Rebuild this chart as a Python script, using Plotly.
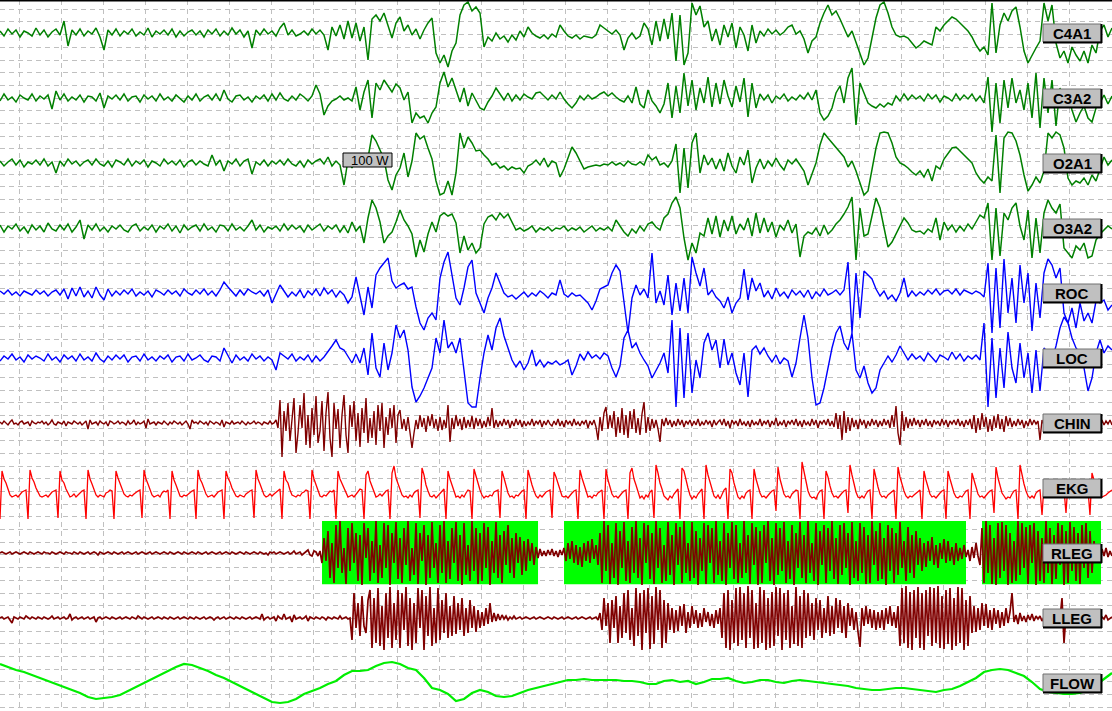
import numpy as np
import plotly.graph_objects as go

# ---------------- data (amplitudes in display units, positive = up) ----------------
channel_names = ["C4A1", "C3A2", "O2A1", "O3A2", "ROC", "LOC", "CHIN", "EKG", "RLEG", "LLEG", "FLOW"]

# EEG / EOG channels: one sample every 4/42 s
c4a1 = [2,-3,4,-1,3,-4,2,0,-3,5,
        -2,3,-4,1,4,-2,12,-13,3,-2,
        4,-3,2,-1,5,-4,-17,3,-2,4,
        -3,2,-1,4,-3,1,-2,5,-4,2,
        -1,3,-2,4,-4,2,-3,1,3,-2,
        2,-4,3,-1,4,-3,2,-2,5,-1,
        3,-4,2,-15,3,-2,4,-1,2,-3,
        5,10,-2,3,-3,-1,2,-2,4,-1,
        3,-2,-17,6,-3,8,-6,12,-5,10,
        -8,6,-27,14,18,12,20,8,-5,10,
        16,2,8,-2,4,-6,3,10,15,-20,
        -30,-22,-34,-18,-10,18,28,31,22,26,
        20,-14,-4,-8,0,-6,-3,-9,-2,-7,
        2,-4,6,0,-3,-5,-2,-6,-1,-4,
        8,2,-3,-5,-2,-6,-3,-4,-5,-2,
        8,5,2,-1,3,-2,-17,-5,0,-6,
        -3,10,4,-12,12,-8,14,-6,20,-28,
        18,-32,-20,30,18,27,6,12,-8,4,
        -12,8,-4,10,-15,6,-2,-18,8,-10,
        2,-3,4,-1,3,-2,1,6,8,-1,
        2,-6,-20,-8,-4,10,20,28,18,22,
        14,4,-4,2,-10,-20,-32,-25,-5,15,
        28,31,20,6,-2,-4,-3,-5,-10,-15,
        -12,-8,-10,-12,6,2,8,12,16,14,
        10,6,2,-4,-12,-18,-14,-22,30,-20,
        8,20,12,22,26,6,-18,-30,-22,-15,
        -8,30,12,28,-10,-25,-18,-30,-14,-22,
        -28,-18,-30,-12,-20,2,8,-4,5]

c3a2 = [-3,4,-2,1,-4,3,0,-2,4,-3,
        2,-1,3,-11,7,-2,4,-3,1,-2,
        3,-4,2,1,-3,5,-10,2,-1,3,
        -2,4,-3,1,2,-4,3,-1,2,-3,
        4,-2,1,-3,3,-1,-4,2,-2,4,
        -3,1,3,-2,4,-3,8,-1,-4,2,
        3,-2,1,-4,2,-1,3,-3,4,-2,
        5,-1,-3,2,-2,4,1,-3,2,13,
        4,-17,-8,-3,-1,2,-2,0,-3,11,
        -12,6,18,-20,15,8,18,12,6,14,
        10,-2,6,-25,-15,-20,-18,-25,-15,-9,
        15,26,11,20,8,-4,10,-8,5,-2,
        -10,-12,-4,2,10,4,-2,5,-3,3,
        -2,4,1,-1,5,6,2,-2,3,-1,
        6,-1,-6,-10,-5,2,-2,3,-1,1,
        4,6,2,5,1,-2,-4,2,-5,11,
        -6,-10,8,-3,-8,-15,-6,15,-20,12,
        -15,25,-8,18,-12,10,-5,21,-9,15,
        -6,18,2,-9,12,-4,20,-19,15,-10,
        4,-2,3,-5,2,-1,4,-3,1,-2,
        3,-1,5,-2,8,-15,-22,-18,-10,5,
        12,-5,20,30,-27,15,5,-5,-8,-10,
        -6,-9,-5,-7,2,-3,4,-2,3,-1,
        2,-3,4,-1,3,-4,2,0,-3,4,
        -2,3,-1,4,-3,2,-5,21,-34,15,
        -25,18,-10,20,-5,8,-12,15,-20,25,
        -30,20,-15,18,-28,10,-8,5,-12,-24,
        -15,-8,-20,-24,-10,-5,3,-6,2]

o2a1 = [2,-3,1,4,-2,3,-4,1,-1,3,
        -2,4,-3,1,-10,2,-3,4,-1,2,
        -3,1,3,-2,4,-1,-3,2,-4,3,
        1,-2,4,-3,2,-1,3,-4,2,0,
        -3,4,-1,2,-2,3,-4,1,3,-2,
        2,-1,-3,8,-2,3,-8,2,-1,4,
        -3,2,4,-11,1,-2,3,-3,2,-1,
        3,-2,4,-1,-3,2,-4,3,-1,2,
        4,-1,6,-3,2,-2,-22,3,-5,4,
        -3,2,5,28,22,13,4,-17,-27,-12,
        -5,10,-14,2,30,24,27,15,4,-18,
        -32,-30,-18,-32,-10,30,15,26,20,12,
        13,8,4,-2,0,-5,-3,-7,-4,-6,
        -5,-10,-3,-1,3,-2,5,-4,2,0,
        -14,-6,5,16,10,2,-6,-4,-3,-2,
        -3,-1,-2,1,-2,0,-3,2,-1,-2,
        1,-2,8,3,6,-2,0,-4,2,19,
        -30,15,-25,20,30,-10,8,-2,5,-6,
        4,-8,10,-3,-10,6,-2,13,-20,-5,
        4,-6,2,-3,5,-2,-7,3,-1,4,
        -2,-8,-22,-10,0,18,30,25,20,15,
        10,6,-4,2,-8,-20,-32,-28,-5,15,
        30,31,30,20,6,0,-2,-5,-9,-12,
        -8,-14,-6,-18,-3,-6,4,10,15,16,
        12,8,4,0,-10,-16,-20,-14,-18,28,
        -30,25,31,30,22,8,-12,-28,-22,-14,
        -20,-8,30,25,31,28,15,-15,-22,-18,
        -20,-15,-22,-12,-18,-5,6,-2,3]

o3a2 = [3,-4,2,-1,4,-3,1,-5,3,-2,
        2,-4,5,-1,-3,3,-2,4,-4,1,
        8,-11,3,-2,4,-3,1,-4,2,-1,
        3,-2,-4,2,4,-3,1,-2,3,-4,
        2,-1,4,-3,2,-5,3,-2,1,3,
        -3,4,-2,1,-4,3,2,-3,4,-2,
        1,-3,2,8,-2,3,-4,1,-1,2,
        -3,4,-2,3,-1,2,-4,3,-2,1,
        4,-3,2,-1,3,-4,2,-5,6,-3,
        2,-15,10,28,20,6,-15,-8,-4,6,
        18,8,2,-6,-29,-12,-24,-6,6,-4,
        12,15,12,14,5,-25,-8,-22,-15,-25,
        -20,4,11,13,8,15,10,14,6,-2,
        0,-3,-1,2,-4,0,-2,1,-3,0,
        -1,2,-3,0,-2,1,-4,-1,2,-3,
        0,-2,1,-3,8,2,-4,-8,-1,-5,
        2,-3,4,6,1,-2,10,14,25,31,
        20,-10,-32,-15,-25,-5,-8,10,-6,12,
        -9,8,-3,12,-6,4,-2,10,-8,15,
        -5,10,-4,6,-9,3,-2,8,-5,4,
        -29,-8,-4,-6,0,-8,3,-6,-2,4,
        8,14,21,31,-32,20,-8,-6,12,30,
        20,0,-19,-14,-6,2,10,5,-2,-4,
        -3,-6,-1,-4,10,-12,6,-2,3,-4,
        2,-3,4,-1,6,13,10,25,-32,20,
        -28,15,8,20,25,2,-12,18,-30,10,
        -25,15,28,20,15,24,-20,-25,-30,-18,
        -22,-15,-30,-28,-12,-6,-2,2,-1]

roc = [2,-1,3,-2,1,-3,2,0,-2,3,
       -1,2,-3,1,3,-2,4,-6,5,-3,
       6,-4,2,-5,6,-2,-7,4,-3,2,
       -2,3,-1,4,-3,1,-2,2,-4,3,
       1,-2,3,-1,2,-3,4,0,-2,3,
       -1,4,-2,2,-3,3,11,6,2,-3,
       3,-2,4,1,-1,2,-3,3,-10,0,
       8,2,-4,1,-3,3,-5,2,-2,4,
       -3,5,-1,3,-4,2,-2,-10,-4,16,
       -5,-22,6,-15,18,25,30,35,12,5,
       8,10,4,6,-14,-30,-37,-25,-20,-27,
       15,31,41,20,-5,-12,5,26,33,0,
       -10,-20,-5,5,20,10,0,-4,-2,-6,
       -2,1,-4,0,-3,2,-1,-5,0,-2,
       13,-1,-4,0,-3,-2,-6,-10,-17,-8,
       4,6,8,20,28,22,-10,-40,-5,8,
       -2,4,-5,40,-10,2,-12,18,-22,10,
       -18,15,-20,36,20,7,25,-2,3,-4,
       -8,-15,-4,-20,-10,-5,24,-7,15,2,
       10,-4,2,-6,5,-3,1,-5,3,-2,
       2,-4,3,-6,1,-3,4,-2,0,3,
       -2,3,31,-40,20,-25,22,18,14,4,
       -3,2,-6,-2,-8,0,15,-4,2,-3,
       1,-2,3,-1,4,-2,2,3,-1,4,
       -2,3,1,-1,2,0,-4,30,-40,25,
       -35,34,-20,15,-30,28,-10,20,-38,10,
       -25,20,34,28,15,25,-20,-30,-15,-35,
       -10,-28,-20,-30,-8,-10,-7,-17,-12]

loc = [-3,2,-1,4,-2,1,-4,3,-1,2,
       0,-3,4,-2,1,-4,3,-1,2,-3,
       4,-2,1,-3,5,-1,-4,2,-2,3,
       -1,3,-4,1,2,-3,4,-2,1,-3,
       2,-1,3,-4,1,2,-3,4,-2,0,
       3,-2,-4,2,1,-3,10,2,-5,3,
       -2,1,-3,4,-1,2,-3,1,-2,-12,
       5,2,-1,4,-3,1,-2,3,-4,2,
       -3,1,6,12,18,10,8,2,-5,4,
       -5,10,-17,25,-10,-19,15,-12,5,33,
       20,28,8,-29,-44,-38,-30,-20,-10,20,
       5,38,10,16,5,20,-10,-45,-49,-49,
       -20,5,23,8,30,40,22,10,-2,-9,
       -3,-12,-5,8,-8,-2,-9,-4,-6,-3,
       -7,-5,-2,-17,-8,4,-2,6,0,3,
       -1,5,2,-10,-19,-8,20,28,10,15,
       5,-2,-8,-20,-12,-5,5,-15,38,-49,
       30,-40,25,-35,-2,-20,15,25,8,18,
       -10,19,-7,5,-15,-27,5,-39,8,12,
       4,10,2,-4,3,-6,0,-3,-19,-5,
       20,43,20,-20,-47,-45,-30,-10,10,25,
       32,15,8,25,-12,-20,-8,-25,-35,-30,
       -12,-5,2,-4,3,12,5,-2,4,-1,
       2,-3,5,0,-4,3,1,-2,6,-1,
       4,-3,2,-1,3,-2,35,-49,20,-40,
       10,-30,26,-10,-25,15,-20,5,-35,8,
       -33,10,5,-2,12,30,41,35,20,10,
       5,-10,-33,-20,5,18,5,12,8]

# EMG channels: one sample every 2/42 s
chin = [1,-1,2,0,-2,1,3,-1,0,-2,1,2,-1,0,1,-3,2,0,-1,1,
        0,2,-1,1,-2,0,3,-1,-2,1,0,-1,2,-3,1,0,-1,2,0,-1,
        1,-2,0,2,-6,3,-1,0,1,-2,2,0,-1,1,-3,2,1,-1,0,2,
        -1,1,0,-2,2,-1,0,3,-2,1,-1,0,2,-5,4,-1,0,1,-2,1,
        0,-1,2,0,-2,1,-1,2,0,-1,1,-2,0,2,-1,-6,3,0,1,-1,
        2,0,-1,1,-2,2,0,-1,1,0,-2,3,-4,1,0,-1,2,-1,0,1,
        -1,2,0,-2,1,-1,0,2,-1,1,0,-2,1,0,-1,2,-1,0,3,-5,
        23,-34,12,-8,20,-18,5,25,-30,-10,18,-5,30,-22,8,-25,15,-12,27,-20,
        -8,22,-28,10,31,-15,-34,20,-6,14,-25,8,28,-12,-30,18,-4,22,-18,10,
        -24,15,-10,25,-20,5,-15,12,-22,18,-8,20,-25,6,-12,15,-5,18,-20,8,
        13,-6,4,-8,6,-12,-25,-10,3,-6,8,-4,5,-9,7,-3,9,-5,4,-8,
        6,-7,3,-5,18,-19,5,-6,8,-3,4,-7,6,-5,3,-4,7,-6,5,-3,
        4,-5,2,-4,6,-3,15,-5,3,-4,2,-3,4,-2,3,-5,2,-3,4,-2,
        3,-4,2,-3,1,-2,4,-3,2,-1,3,-4,2,-2,3,-1,-3,2,-2,4,
        -3,2,-4,3,-1,2,-3,4,-2,1,-3,2,-1,3,-5,2,-2,3,-4,-17,
        6,-8,10,16,-6,8,-5,12,-14,6,-10,15,-12,8,-15,12,-6,14,-10,5,
        -12,9,21,-10,6,-8,4,-5,3,-6,-19,4,-3,5,-2,3,-4,2,-3,4,
        -2,3,-4,2,-1,3,-3,2,-2,4,-3,1,-2,3,-1,2,-4,3,-2,1,
        3,-2,4,-3,2,-5,3,-1,2,-3,4,-2,1,-3,2,-4,3,-2,1,-2,
        4,-3,2,-1,3,-4,2,-2,5,-3,1,-2,3,-4,2,-1,3,-2,4,-3,
        2,-4,3,-2,1,-3,4,-2,3,-5,2,-1,3,-2,4,-3,2,-4,10,-6,
        8,-17,12,-10,6,-8,5,-4,3,-6,4,-2,3,-5,2,-3,4,-2,3,-4,
        2,-3,4,-2,3,-5,8,-4,17,-10,-22,12,-8,6,-5,4,-3,5,-2,3,
        -4,3,-2,4,-3,2,-4,3,-1,2,-3,4,-2,3,-4,2,-1,3,-2,4,
        -3,2,-4,3,-2,4,-6,8,-10,5,-7,10,-4,6,-9,4,-8,7,-5,9,
        -6,4,-9,7,-3,5,-4,2,-3,4,-2,3,-5,2,-3,4,-2,3,-1,2,
        -17,3,-2,4,-3,2,-4,3,-2,4,-3,2,-1,3,-2,4,-3,2,-4,3,
        -2,3,-1,2,-3,4,-2,3,-1,2,-4,3,-2,2,-1,3,-2]

rleg = [0,1,0,-1,0,1,-1,0,1,0,-1,0,1,0,-1,1,0,-1,0,1,
        0,-1,1,0,0,-1,1,0,-1,0,1,0,-1,1,0,0,-1,1,0,-1,
        1,0,-1,0,1,-1,0,1,0,-2,1,0,-1,0,1,0,-1,1,0,-1,
        0,1,-1,0,1,0,-1,0,1,-1,0,1,0,-1,0,1,-1,0,1,0,
        -1,0,1,0,-1,1,0,-1,0,1,0,-1,1,0,-1,0,1,0,-1,1,
        0,-1,0,1,-1,0,1,0,-1,0,1,-1,0,1,0,-1,1,0,-1,0,
        1,0,-1,1,0,-1,0,1,0,-1,1,0,-1,0,-2,1,0,1,-1,0,
        1,0,-1,0,1,-1,0,2,-1,0,1,-2,0,1,3,-2,-3,2,1,-3,
        2,-10,15,-8,22,-25,10,-30,28,-15,32,-20,5,-31,25,-18,30,-10,20,-28,
        18,-32,30,-5,25,-28,12,-20,32,-30,8,-25,30,-15,28,-32,20,-10,31,-26,
        15,-30,25,-12,32,-28,5,-22,30,-31,20,-8,28,-32,18,-25,31,-15,10,-30,
        28,-20,32,-30,12,-26,25,-10,31,-28,18,-32,30,-22,8,-28,32,-18,25,-31,
        20,-28,30,-15,26,-32,12,-20,31,-25,18,-30,22,-12,28,-20,15,-25,20,-10,
        16,-22,12,-18,14,-8,10,-12,6,-5,4,-3,2,-3,3,-2,4,-3,2,-4,
        3,-2,5,-8,10,-6,12,-10,8,-12,6,-14,10,-8,12,-10,14,-6,8,-12,
        20,-30,32,-18,28,-31,10,-25,30,-32,22,-15,31,-28,12,-30,26,-20,32,-25,
        15,-32,30,-10,28,-26,20,-31,32,-15,25,-30,8,-28,31,-22,18,-32,30,-12,
        26,-30,32,-20,10,-28,31,-25,22,-32,15,-18,30,-31,28,-10,25,-30,32,-22,
        12,-28,30,-32,20,-15,31,-26,28,-30,10,-25,32,-20,18,-31,30,-12,26,-32,
        22,-30,28,-10,32,-28,15,-32,30,-22,25,-18,31,-30,12,-26,28,-32,20,-15,
        31,-25,18,-30,32,-20,10,-28,30,-32,22,-12,28,-30,25,-18,32,-26,15,-31,
        28,-22,30,-15,20,-32,31,-25,12,-28,30,-20,26,-31,18,-30,32,-12,22,-28,
        30,-26,15,-32,28,-18,25,-30,20,-22,31,-15,12,-28,26,-20,18,-25,22,-12,
        15,-18,10,-14,12,-8,16,-12,8,-15,10,-6,14,-10,12,-8,6,-12,10,-8,
        5,-6,8,-4,3,-8,6,-5,10,-3,-12,25,-30,32,-20,28,-31,15,-32,30,
        -25,31,-18,28,-32,20,-30,12,-28,32,-22,30,-15,26,-31,28,-10,30,-32,22,
        -28,15,-30,32,-20,25,-31,18,-26,30,-12,28,-32,22,-30,31,-18,26,-28,20,
        -31,28,-15,30,-25,22,-20,12,-8,5,-6,4,-3,5,-4,2,-3]

lleg = [0,1,-1,0,1,-2,-5,1,0,-1,1,0,-1,2,0,-1,1,0,-1,1,
        0,-1,1,0,-1,0,2,-1,0,1,-1,0,1,-1,0,4,-2,0,1,-1,
        0,1,-1,0,1,-1,0,1,-4,0,1,-1,0,1,0,-1,1,0,-1,0,
        1,-1,0,1,0,-1,1,0,-1,2,0,-1,1,0,-1,0,1,-1,0,1,
        0,-1,1,0,-1,1,0,-1,0,1,-1,0,1,0,-1,1,0,-1,1,0,
        -1,0,1,-1,0,1,0,-2,0,1,-1,0,1,-1,0,1,0,-1,1,0,
        -1,1,0,-1,0,1,-1,0,1,0,-1,4,-2,0,1,-1,0,1,-3,2,
        0,-1,4,-1,0,1,-4,3,-1,0,1,-1,0,2,-3,1,0,-1,1,0,
        -1,1,0,-2,1,0,-1,1,0,-1,2,-1,0,1,-1,0,-22,25,-10,15,
        -18,22,-8,-15,18,28,-30,20,-25,30,-28,12,-32,25,-20,31,-30,15,-22,28,
        -30,25,-12,31,-28,20,-32,15,-25,30,-10,28,-32,22,-18,31,-28,10,-25,30,
        -22,18,-15,25,-20,12,-18,22,-16,15,-12,20,-18,10,-15,18,-10,12,-14,8,
        -10,6,-8,10,-6,15,-4,5,-3,4,-2,3,-1,2,-2,1,-1,2,-1,0,
        1,-1,0,1,0,-1,0,1,-1,0,1,0,-1,0,1,0,-1,1,0,-1,
        0,1,-1,0,1,0,-1,0,1,-1,0,1,0,-1,0,1,-1,0,1,-2,
        5,-12,20,-8,15,-25,18,-10,22,-25,12,-20,25,-15,28,-22,10,-28,30,-18,
        25,-32,28,-15,30,-31,22,-26,31,-12,28,-30,18,-25,15,-12,10,-15,8,-13,
        12,-8,14,-15,6,-10,12,-6,8,-10,5,-9,10,-4,6,-8,4,-10,8,-6,
        10,-20,25,-30,28,-32,18,-25,30,-28,31,-22,25,-30,32,-20,28,-31,15,-30,
        31,-25,28,-32,20,-30,26,-28,31,-18,30,-32,25,-22,28,-30,12,-26,31,-28,
        22,-30,28,-20,25,-18,15,-22,20,-12,18,-20,10,-15,22,-18,12,-16,20,-10,
        18,-15,12,-20,15,-8,10,-12,6,-14,-29,10,-8,12,-6,9,-10,8,-12,6,
        -10,8,-12,10,-6,12,-8,6,-10,12,-28,30,-25,32,-30,26,-32,28,-20,31,
        -30,25,-32,28,-18,31,-28,30,-25,32,-30,22,-31,28,-26,30,-32,20,-28,31,
        -25,30,-32,18,-28,22,-15,12,-14,10,-12,15,-8,14,-10,8,-12,10,-6,8,
        -10,6,-8,10,-5,6,25,-4,3,-6,5,-3,2,-4,3,-2,4,-3,2,-1,
        2,-3,1,-2,3,-1,2,-2,1,-1,0,20,-25,3,-1,2,-1,1,0,-1,
        1,0,-1,2,-1,0,1,-2,2,-1,0,1,-1,3,-2,0,1]

# respiratory flow: one sample every 8/42 s
flow = [19,16,13,11,8,5,2,-1,-4,-7,
        -10,-14,-16,-15,-14,-12,-8,-4,0,4,
        8,12,16,19,18,15,12,8,5,1,
        -3,-7,-11,-15,-19,-20,-19,-16,-11,-8,
        -5,-1,2,8,12,12,13,17,20,21,
        19,15,13,5,-5,-7,-11,-18,-16,-10,
        -7,-9,-13,-14,-13,-10,-7,-5,-3,-1,
        1,3,3,4,3,3,3,3,2,2,
        1,-1,-1,2,3,1,2,-1,1,4,
        4,5,2,0,1,3,3,1,0,2,
        3,2,1,0,-1,-2,-3,-5,-6,-7,
        -7,-6,-5,-5,-6,-7,-8,-9,-7,-6,
        -3,1,5,11,13,14,13,10,7,1,
        -6,-9,-10,-11,-11,-10,-7,-2,4,10]

# EKG: R-wave onset times (s) and the samples of each beat (every 2/42 s)
ekg_onsets = [0.0, 0.667, 1.381, 2.048, 2.714, 3.381, 4.048, 4.667, 5.333, 6.048,
              6.714, 7.381, 8.0, 8.667, 9.286, 10.0, 10.619, 11.238, 11.905, 12.524,
              13.143, 13.762, 14.381, 14.952, 15.571, 16.19, 16.762, 17.333, 17.905, 18.476,
              19.048, 19.619, 20.19, 20.762, 21.333, 21.952, 22.524, 23.095, 23.667, 24.238,
              24.81, 25.381, 25.952]
ekg_beats = [
    [-26,22,14,10,4,-2,-4,-3,-2,-4,-1,1,2,3],
    [-26,23,15,11,5,0,-3,-4,-3,-2,-4,-1,1,2,3],
    [-25,22,13,10,4,-1,-4,-3,-1,-4,-2,1,2,3],
    [-26,23,14,9,3,-2,-4,-2,-3,-4,0,1,3,2],
    [-26,22,15,10,4,-1,-3,-4,-2,-3,-1,1,2,3],
    [-25,23,14,9,3,-2,-4,-3,-2,-4,0,2,1,3],
    [-26,22,13,8,2,-3,-4,-2,-3,-1,1,2,3],
    [-26,23,14,10,4,-1,-4,-3,-2,-4,-1,1,2,3],
    [-26,22,15,11,5,0,-3,-4,-2,-3,-4,-1,1,2,3],
    [-25,23,14,9,4,-2,-4,-3,-1,-3,-1,1,2,4],
    [-26,22,13,10,3,-2,-3,-4,-2,-3,0,1,3,2],
    [-26,23,14,8,2,-3,-4,-2,-3,-1,2,1,3],
    [-26,22,14,9,4,-1,-4,-3,-2,-4,-1,2,4,3],
    [-26,18,22,12,6,0,-4,-3,-1,-3,0,2,3],
    [-26,20,27,15,10,4,-2,-4,-3,-5,-2,-4,0,2,3],
    [-25,25,18,8,2,-3,-4,-2,-5,-3,0,2,4],
    [-26,22,14,8,1,-4,-3,-5,-2,-4,0,3,2],
    [-26,24,16,9,3,-2,-5,-3,-4,-2,-3,1,2,3],
    [-25,22,15,7,0,-4,-3,-5,-2,-3,0,2,3],
    [-26,23,14,8,2,-3,-5,-2,-4,-1,1,2,3],
    [-25,21,16,9,2,-3,-4,-3,-5,-2,0,2,3],
    [-26,23,15,8,1,-4,-3,-5,-2,-3,0,2,3],
    [-26,24,13,6,-1,-4,-3,-5,-2,0,2,3],
    [-26,20,25,14,8,0,-5,-3,-6,-2,-4,1,3],
    [-25,28,20,10,4,-3,-5,-7,-3,-5,-1,2,4],
    [-26,25,22,12,5,-2,-6,-3,-5,-1,2,4],
    [-26,28,18,10,3,-3,-5,-2,-6,-1,3,5],
    [-26,24,20,10,2,-4,-6,-3,-5,0,2,3],
    [-26,24,14,6,0,-4,-3,-5,-2,0,2,3],
    [-18,26,14,6,-1,-4,-3,-5,-1,1,3,2],
    [-26,31,20,10,2,-3,-5,-4,-6,-1,2,3],
    [-26,22,16,7,0,-4,-3,-5,-2,0,2,3],
    [-20,28,18,9,1,-4,-5,-3,-5,-1,2,3],
    [-26,24,14,6,-1,-4,-3,-5,-2,0,2,3],
    [-26,26,16,8,2,-3,-5,-3,-4,-2,0,2,3],
    [-26,22,13,6,-1,-4,-3,-5,-2,0,2,3],
    [-26,22,14,6,0,-4,-5,-3,-4,-1,2,3],
    [-26,20,13,6,-1,-4,-3,-5,-2,0,2,3],
    [-20,26,15,8,0,-3,-6,-4,-5,-1,2,3],
    [-26,28,18,9,2,-3,-5,-3,-5,0,2,3],
    [-22,8,3,0,-2,-3,-2,-4,-1,1,2,3],
    [-20,10,5,1,-2,-3,-2,-3,-1,1,2,3],
    [-22,20,12,6,0,-3,-4,-3,-2,0,2,3],
]

# leg-movement events scored on RLEG (start, end) in seconds
rleg_events = [(7.667, 12.81), (13.429, 23.0), (23.381, 26.214)]

# ---------------- layout constants ----------------
W, H = 1112, 711
PX_PER_SEC = 42.0
T_END = W / PX_PER_SEC
ROW0, ROW_STEP = 33, 65
base = {n: ROW0 + ROW_STEP * k for k, n in enumerate(channel_names)}
trace_offset = {"EKG": 5}

colors = {"C4A1": "#008000", "C3A2": "#008000", "O2A1": "#008000", "O3A2": "#008000",
          "ROC": "#0000ff", "LOC": "#0000ff", "CHIN": "#800000", "EKG": "#ff0000",
          "RLEG": "#800000", "LLEG": "#800000", "FLOW": "#00ee00"}
widths = {"C4A1": 1.5, "C3A2": 1.5, "O2A1": 1.5, "O3A2": 1.5, "ROC": 1.4, "LOC": 1.4,
          "CHIN": 1.4, "EKG": 1.3, "RLEG": 1.7, "LLEG": 1.7, "FLOW": 2.2}

uniform = {"C4A1": c4a1, "C3A2": c3a2, "O2A1": o2a1, "O3A2": o3a2, "ROC": roc, "LOC": loc,
           "CHIN": chin, "RLEG": rleg, "LLEG": lleg, "FLOW": flow}

fig = go.Figure()

# event boxes (drawn before the RLEG trace)
EVT_UP, EVT_DN = 32, 31.3
for a, b in rleg_events:
    yb = base["RLEG"]
    fig.add_trace(go.Scatter(x=[a, b, b, a, a],
                             y=[yb - EVT_UP, yb - EVT_UP, yb + EVT_DN, yb + EVT_DN, yb - EVT_UP],
                             mode="lines", fill="toself", fillcolor="#00ff00",
                             line=dict(width=0, color="#00ff00"), hoverinfo="skip"))

for name in channel_names:
    yb = base[name] + trace_offset.get(name, 0)
    if name == "EKG":
        dt = 2.0 / PX_PER_SEC
        xs, ys = [], []
        for t0, beat in zip(ekg_onsets, ekg_beats):
            for j, v in enumerate(beat):
                xs.append(t0 + j * dt)
                ys.append(yb - v)
    else:
        vals = np.array(uniform[name], dtype=float)
        xs = np.linspace(0, T_END, len(vals))
        ys = yb - vals
    fig.add_trace(go.Scatter(x=xs, y=ys, mode="lines",
                             line=dict(color=colors[name], width=widths.get(name, 1.3)),
                             hoverinfo="skip"))

shapes = []
annotations = []
# label buttons
bx0, bx1 = 1043 / W, 1101 / W
for name in channel_names:
    yc = base[name]
    shapes.append(dict(type="rect", xref="paper", yref="y", x0=bx0, x1=bx1, y0=yc - 9, y1=yc + 9,
                       fillcolor="#c0c0c0", line=dict(color="#707070", width=1), layer="above"))
    shapes.append(dict(type="line", xref="paper", yref="y", x0=bx0, x1=bx1 + 1 / W, y0=yc + 9.5, y1=yc + 9.5,
                       line=dict(color="#000000", width=2), layer="above"))
    shapes.append(dict(type="line", xref="paper", yref="y", x0=bx1 + 0.5 / W, x1=bx1 + 0.5 / W, y0=yc - 9, y1=yc + 10,
                       line=dict(color="#000000", width=2), layer="above"))
    annotations.append(dict(text="<b>%s</b>" % name, xref="paper", yref="y", x=(bx0 + bx1) / 2, y=yc + 0.5,
                            xanchor="center", yanchor="middle", showarrow=False,
                            font=dict(family="Liberation Sans, Arial, sans-serif", size=15, color="#000000")))

# scale box "100 W"
shapes.append(dict(type="rect", xref="paper", yref="y", x0=343 / W, x1=392 / W, y0=153, y1=167,
                   fillcolor="#c0c0c0", line=dict(color="#000000", width=1), layer="above"))
annotations.append(dict(text="100 W", xref="paper", yref="y", x=390.5 / W, y=160.5, xanchor="right",
                        yanchor="middle", showarrow=False,
                        font=dict(family="Liberation Sans, Arial, sans-serif", size=13, color="#000000")))
# top border
shapes.append(dict(type="rect", xref="paper", yref="y", x0=0, x1=1, y0=0, y1=1.5,
                   fillcolor="#000000", line=dict(width=0), layer="above"))

fig.update_layout(
    width=W, height=H, margin=dict(l=0, r=0, t=0, b=0),
    paper_bgcolor="white", plot_bgcolor="white", showlegend=False,
    shapes=shapes, annotations=annotations,
    xaxis=dict(range=[0, T_END], showgrid=True, gridcolor="#c0c0c0", gridwidth=1, griddash="5px,4px",
               tick0=19.3 / PX_PER_SEC, dtick=1, showticklabels=False, ticks="", zeroline=False,
               showline=False, fixedrange=True),
    yaxis=dict(range=[H, 0], showgrid=True, gridcolor="#c0c0c0", gridwidth=1, griddash="5px,4px",
               tick0=9.3, dtick=12.69, showticklabels=False, ticks="", zeroline=False,
               showline=False, fixedrange=True),
)

fig.write_html("out.html", config={"displayModeBar": False},
               post_script="document.body.style.margin='0px';")
